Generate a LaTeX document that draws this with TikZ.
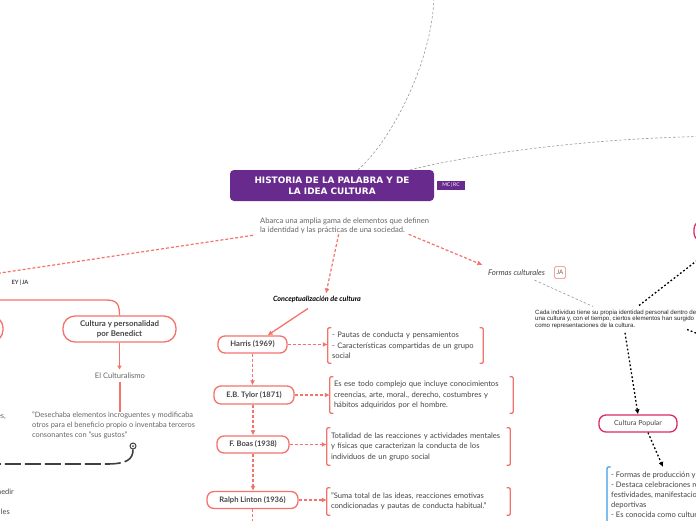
\documentclass[tikz,border=0pt]{standalone}
\usepackage{fontspec}
\setmainfont{Lato}
\newfontfamily\arialf{Liberation Sans}
\newfontfamily\dejaf{DejaVu Sans}
\usetikzlibrary{arrows.meta}
\definecolor{purp}{HTML}{682A8C}
\definecolor{sal}{HTML}{F4726C}
\definecolor{txt}{HTML}{454545}
\definecolor{gtxt}{HTML}{666666}
\definecolor{crim}{HTML}{DB2B63}
\definecolor{blu}{HTML}{3D9BE9}
\definecolor{pinkt}{HTML}{F5A3A3}
\definecolor{dgray}{HTML}{3F3F3F}
\tikzset{
 redbox/.style={draw=sal, line width=1.3pt, rounded corners=7pt, fill=white, text=txt, font=\fontsize{7.6}{8}\selectfont\bfseries, inner sep=0pt, align=center},
 brktext/.style={inner xsep=4pt, inner ysep=0pt, text=txt, font=\fontsize{7.6}{10.4}\selectfont, align=left},
 reddash/.style={draw=sal, line width=1.2pt, dash pattern=on 3pt off 2pt},
 redline/.style={draw=sal, line width=1.3pt},
 rtip/.style={-{Latex[length=5pt,width=5pt]}},
 graydash/.style={draw=gray!80, line width=0.6pt, dash pattern=on 2.5pt off 2pt},
 blkdot/.style={draw=black, line width=1.3pt, dash pattern=on 1.8pt off 2.2pt},
 btip/.style={-{Latex[length=5pt,width=5pt]}},
}
\newcommand\drawbrk[2]{%
 \draw[#2, line width=1.2pt, rounded corners=1.2pt] ([xshift=3.5pt]#1.north west) -- (#1.north west) -- (#1.south west) -- ([xshift=3.5pt]#1.south west);
 \draw[#2, line width=1.2pt, rounded corners=1.2pt] ([xshift=-3.5pt]#1.north east) -- (#1.north east) -- (#1.south east) -- ([xshift=-3.5pt]#1.south east);}
\begin{document}
\begin{tikzpicture}[x=1pt,y=-1pt]
\useasboundingbox (0,0) rectangle (696,520);
\clip (0,0) rectangle (696,520);
\fill[white] (0,0) rectangle (696,520);

% central
\node[fill=purp, rounded corners=4pt, minimum width=204pt, minimum height=31pt, inner sep=0pt, text=white, font=\dejaf\fontsize{8.9}{11}\selectfont\bfseries, align=center] (central) at (332,185.5) {HISTORIA DE LA PALABRA Y DE\\LA IDEA CULTURA};
\node[fill=purp, minimum width=28pt, minimum height=9.5pt, inner sep=0pt, text=white, font=\fontsize{5}{6}\selectfont] (mc) at (451,185.5) {MC\,|\,RC};
\node[anchor=north west, inner sep=0pt, text=gtxt, font=\fontsize{7.6}{9.5}\selectfont, align=left] (desc) at (260,217.5) {Abarca una amplia gama de elementos que definen\\la identidad y las prácticas de una sociedad.};

\coordinate (topend) at (434,-5);
\coordinate (rightend) at (700,136.5);
\draw[graydash] ([xshift=26pt]central.north) .. controls (392,140) and (433,60) .. (topend);
\draw[graydash] ([xshift=78pt]central.north) .. controls (470,155) and (580,139) .. (rightend);

% left branch
\coordinate (leftend) at (-20,276);
\draw[reddash] ([xshift=-7pt,yshift=-1pt]desc.south west) -- (leftend);
\node[font=\fontsize{5.8}{6}\selectfont\bfseries, text=txt] (eyja) at (20,283) {EY\,|\,JA};
\node[redbox, minimum width=106pt, minimum height=26pt, rounded corners=12pt] (leftbox) at (-50,329) {};
\node[redbox, minimum width=113pt, minimum height=26pt, rounded corners=12pt, font=\fontsize{7.9}{9.8}\selectfont\bfseries] (cyp) at (119.5,329) {Cultura y personalidad\\por Benedict};
\coordinate (lstart) at (-10,300);
\draw[redline] (lstart) -- (106,300) .. controls (117,300) and (119.5,304) .. (cyp.north);
\node[font=\fontsize{7.6}{8}\selectfont, text=gtxt] (cult) at (120,376) {El Culturalismo};
\node[anchor=north west, inner sep=0pt, font=\fontsize{7.4}{10.3}\selectfont, text=gtxt, align=left] (quote) at (32,411.5) {"Desechaba elementos incroguentes y modificaba\\otros para el beneficio propio  o inventaba terceros\\consonantes con "sus gustos"};
\draw[redline, -{Latex[length=4pt,width=5pt]}] (cyp.south) -- (cyp.south |- cult.north);
\draw[redline] (cult.south) -- (cult.south |- quote.north);
\node[circle, draw=dgray, line width=1pt, minimum size=6pt, inner sep=0pt] (pin) at (133,446) {};
\fill[dgray] (pin.center) circle (1pt);
\coordinate (dend) at (-10,464);
\draw[dgray, line width=1.6pt, dash pattern=on 16pt off 4pt] (pin.south) .. controls (133,460) and (126,464) .. (106,464) -- (dend);
\node[anchor=east, inner sep=0pt, font=\fontsize{7.4}{8}\selectfont, text=gtxt] (f1) at (6,417) {es,};
\node[anchor=east, inner sep=0pt, font=\fontsize{7.4}{8}\selectfont, text=txt] (f2) at (14,492) {medir};
\node[anchor=east, inner sep=0pt, font=\fontsize{7.4}{8}\selectfont, text=txt] (f3) at (10,512) {les};

% conceptualizacion
\node[font=\fontsize{7.2}{8}\selectfont\bfseries\itshape, text=black, inner sep=2pt] (concept) at (317,299) {Conceptualización de cultura};
\draw[reddash, rtip] ([xshift=-6pt]desc.south) -- ([xshift=9pt]concept.north);

\node[redbox, minimum width=69pt, minimum height=17pt] (harris) at (252.5,344.5) {Harris (1969)};
\node[redbox, minimum width=80pt, minimum height=18pt] (tylor) at (254,395) {E.B. Tylor (1871)};
\node[redbox, minimum width=72pt, minimum height=17pt] (boas) at (253,444.5) {F. Boas (1938)};
\node[redbox, minimum width=91pt, minimum height=17pt] (ralph) at (252.5,500) {Ralph Linton (1936)};
\draw[redline, rtip] ([xshift=-9pt,yshift=-4pt]concept.south) -- ([xshift=15pt]harris.north);

\node[brktext, text width=147pt, minimum height=35pt] (b1) at (405.5,345.5) {- Pautas de conducta y pensamientos\\- Características compartidas de un grupo\\social};
\node[brktext, text width=175pt, minimum height=36pt] (b2) at (421.5,395) {Es ese todo complejo que incluye conocimientos\\creencias, arte, moral., derecho, costumbres y\\hábitos adquiridos por el hombre.};
\node[brktext, text width=175pt, minimum height=37pt] (b3) at (418.5,446.5) {Totalidad de las reacciones y actividades mentales\\y físicas que caracterizan la conducta de los\\individuos de un grupo social};
\node[brktext, text width=175pt, minimum height=27pt] (b4) at (418.5,501.5) {"Suma total de las ideas, reacciones emotivas\\condicionadas y pautas de conducta habitual."};
\drawbrk{b1}{sal}
\drawbrk{b2}{sal}
\drawbrk{b3}{sal}
\drawbrk{b4}{sal}

\draw[reddash, rtip] (harris.east) -- (harris.east -| b1.west);
\draw[reddash, rtip] (tylor.east) -- (tylor.east -| b2.west);
\draw[reddash, rtip] (boas.east) -- (boas.east -| b3.west);
\draw[reddash, rtip] (ralph.east) -- (ralph.east -| b4.west);
\draw[reddash, rtip] (harris.south) -- (harris.south |- tylor.north);
\draw[reddash, rtip] (tylor.south -| boas.north) -- (boas.north);
\draw[reddash, rtip] (boas.south) -- (boas.south |- ralph.north);
\coordinate (rbot) at (252.5,530);
\draw[reddash] (ralph.south) -- (rbot);

% formas culturales
\node[font=\fontsize{7.8}{8}\selectfont\itshape, text=txt, inner sep=1.5pt] (formas) at (516.5,272.5) {Formas culturales};
\node[draw=pinkt, line width=0.8pt, rounded corners=1.5pt, minimum width=11pt, minimum height=12pt, inner sep=0pt, text=gtxt, font=\fontsize{6.2}{7}\selectfont] (ja) at (560,272.5) {JA};
\draw[reddash, rtip] ([xshift=64pt]desc.south) -- ([xshift=-4pt,yshift=3pt]formas.north west);
\node[anchor=north west, inner sep=0pt, font=\arialf\fontsize{6.1}{6.6}\selectfont, text=black!85, align=left] (cada) at (535,309.5) {Cada individuo tiene su propia identidad personal dentro de\\una cultura y, con el tiempo, ciertos elementos han surgido\\como representaciones de la cultura.};
\draw[graydash] ([xshift=18pt,yshift=-3pt]formas.south) -- ([xshift=58pt,yshift=3pt]cada.north west);

\node[draw=crim, line width=1.3pt, rounded corners=8pt, fill=white, minimum width=82pt, minimum height=20pt] (magnode) at (735,231) {};
\draw[blkdot] ([xshift=104pt,yshift=4pt]cada.north west) -- (magnode);
\coordinate (rdash) at (760,358);
\draw[blkdot] (687,329.5) -- (rdash);

\node[draw=crim, line width=1.3pt, rounded corners=7pt, fill=white, minimum width=78pt, minimum height=17pt, inner sep=0pt, text=txt, font=\fontsize{7}{8}\selectfont] (popular) at (638,423.5) {Cultura Popular};
\draw[blkdot, btip] ([xshift=90pt,yshift=-4pt]cada.south west) -- (popular.north);

\node[anchor=north west, inner xsep=4pt, inner ysep=4.5pt, text=txt, font=\fontsize{7.6}{10}\selectfont, align=left] (blue) at (607,467) {- Formas de producción y consumo\\- Destaca celebraciones religiosas,\\festividades,  manifestaciones\\deportivas\\- Es conocida como cultura de masas};
\draw[blu, line width=1.2pt, rounded corners=1.2pt] ([xshift=3.5pt]blue.north west) -- (blue.north west) -- ([yshift=-80pt]blue.north west);
\draw[blkdot, btip] ([xshift=10pt]popular.south) -- ([xshift=56pt]blue.north west);
\end{tikzpicture}
\end{document}
